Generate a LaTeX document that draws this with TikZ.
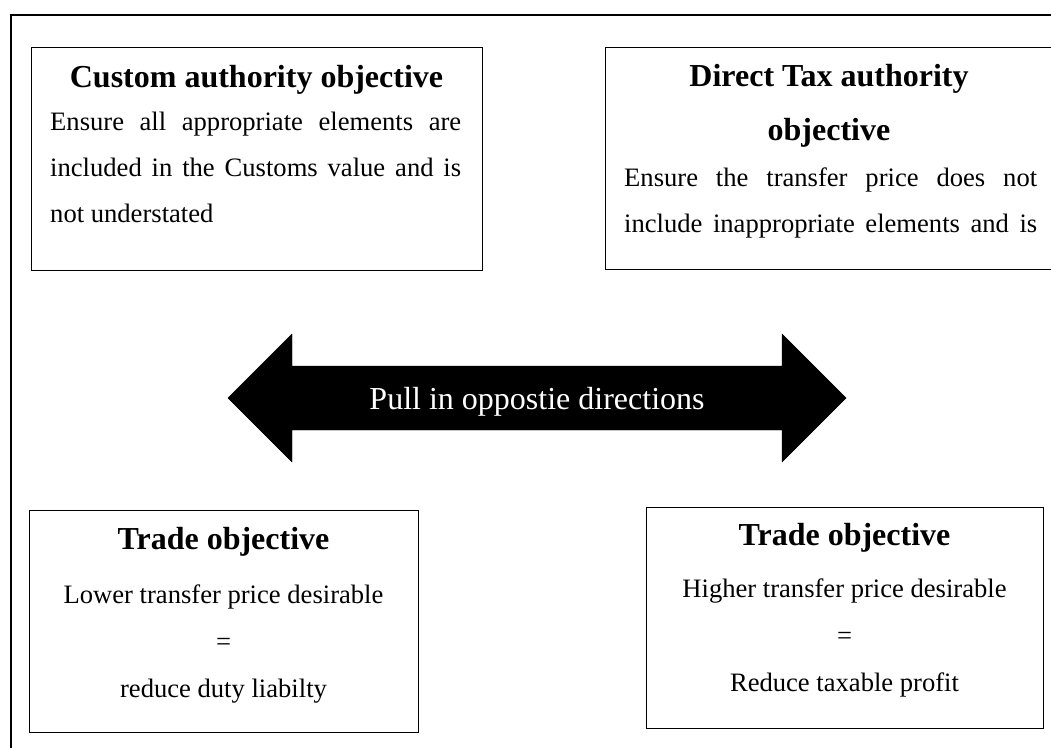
\documentclass[tikz,border=0pt]{standalone}
\usepackage{fontspec}
\setmainfont{Liberation Serif}
\begin{document}
\begin{tikzpicture}[x=1pt,y=-1pt,
  frame/.style={line width=1.3pt},
  objbox/.style={draw, line width=1.2pt, inner sep=0pt, anchor=north west},
  ttl/.style={font=\fontsize{32}{36}\selectfont\bfseries, inner sep=0pt, anchor=base},
  bodyc/.style={font=\fontsize{26.6}{30}\selectfont, inner sep=0pt, anchor=base},
  bodyj/.style={bodyc, anchor=base west},
  pulltext/.style={font=\fontsize{32}{36}\selectfont, text=white, inner sep=0pt, anchor=base}]
\useasboundingbox (0,0) rectangle (1051,747);
\clip (0,0) rectangle (1051,747);
% outer frame (extends beyond the picture)
\coordinate (fb) at (11,760);
\coordinate (ftl) at (11,15);
\coordinate (fr) at (1070,15);
\draw[frame] (fb) -- (ftl) -- (fr);
% top-left box
\node[objbox, minimum width=451pt, minimum height=223pt] (ca) at (31,47) {};
\node[ttl] (cat) at (256.5,87) {Custom authority objective};
\node[bodyj] (ca1) at (50,130) {\makebox[411pt][s]{Ensure all appropriate elements are}};
\node[bodyj] (ca2) at (50,176) {\makebox[411pt][s]{included in the Customs value and is}};
\node[bodyj] (ca3) at (50,222) {not understated};
% top-right box
\node[objbox, minimum width=480pt, minimum height=222pt] (dt) at (605,47) {};
\node[ttl] (dt1) at (829,86) {Direct Tax authority};
\node[ttl] (dt2) at (829,140) {objective};
\node[bodyj] (dt3) at (624,186) {\makebox[413pt][s]{Ensure the transfer price does not}};
\node[bodyj] (dt4) at (624,232) {\makebox[413pt][s]{include inappropriate elements and is}};
% double arrow
\draw[fill=black] (228,398) -- (292,334) -- (292,366) -- (782,366) -- (782,334)
  -- (846,398) -- (782,462) -- (782,430) -- (292,430) -- (292,462) -- cycle;
\node[pulltext] (pull) at (537,409) {Pull in oppostie directions};
% bottom-left box
\node[objbox, minimum width=389pt, minimum height=222pt] (tl) at (29,510) {};
\node[ttl] (tlt) at (223.5,549) {Trade objective};
\node[bodyc] (tl1) at (223.5,603) {Lower transfer price desirable};
\node[bodyc] (tl2) at (223.5,650) {=};
\node[bodyc] (tl3) at (223.5,697) {reduce duty liabilty};
% bottom-right box
\node[objbox, minimum width=397pt, minimum height=221pt] (tr) at (646,507) {};
\node[ttl] (trt) at (844.5,545) {Trade objective};
\node[bodyc] (tr1) at (844.5,597) {Higher transfer price desirable};
\node[bodyc] (tr2) at (844.5,644) {=};
\node[bodyc] (tr3) at (844.5,691) {Reduce taxable profit};
\end{tikzpicture}
\end{document}
